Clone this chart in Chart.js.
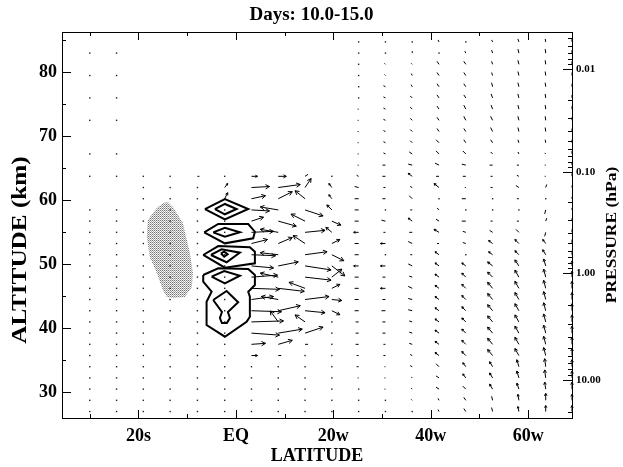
<!DOCTYPE html>
<html>
<head>
<meta charset="utf-8">
<script src="https://cdn.jsdelivr.net/npm/chart.js@4.4.0/dist/chart.umd.min.js"></script>
<style>body{margin:0;background:#fff}</style>
</head>
<body>
<canvas id="c" width="623" height="467"></canvas>
<script>
const serif = '"Liberation Serif", "Times New Roman", serif';

// axes
const latTicks = [-20, 0, 20, 40, 60];
const latLabels = ['20s', 'EQ', '20w', '40w', '60w'];
const latMinor = [-30, -10, 10, 30, 50];
const altTicks = [30, 40, 50, 60, 70, 80];
const altMinor = [35, 45, 55, 65, 75, 85];
const presLabels = ['0.01', '0.10', '1.00', '10.00'];
const presMajor = [0.01, 0.1, 1, 10];
const presAlt = [80.5, 64.4, 48.6, 31.9];
const presMinor = [0.005, 0.006, 0.007, 0.008, 0.009, 0.02, 0.03, 0.04, 0.05, 0.06, 0.07, 0.08, 0.09,
                   0.2, 0.3, 0.4, 0.5, 0.6, 0.7, 0.8, 0.9, 2, 3, 4, 5, 6, 7, 8, 9, 20];

// vector grid
const latCols = [-30.0, -24.5, -19.0, -13.5, -7.9, -2.3, 3.2, 8.7, 14.2, 19.7, 25.2, 30.7, 36.2, 41.7, 47.2, 52.7, 58.1, 63.6, 69.0];
const altRows = [84.7, 82.95, 81.2, 79.45, 77.7, 75.95, 74.2, 72.45, 70.7, 68.95, 67.2, 65.45, 63.7, 61.95, 60.2, 58.45, 56.7,
                 54.95, 53.2, 51.45, 49.7, 47.95, 46.2, 44.45, 42.7, 40.95, 39.2, 37.45, 35.7, 33.95, 32.2, 30.45, 28.7, 26.95];
const _ = null;
const uWind = [
  [_,_,_,_,_,_,_,_,_,_,0,0,0,-1,0,-1,-1,-0.5,0],
  [0,0,_,_,_,_,_,_,_,_,0,0,0,0,-1,-1,-1,-0.5,0],
  [_,_,_,_,_,_,_,_,_,_,0,-1,-1,-2,-2,-1,-1,-0.5,0],
  [0,0,_,_,_,_,_,_,_,_,0,-1,-1,-2,-2,-1,-1,-0.5,0],
  [_,_,_,_,_,_,_,_,_,_,0,-2,-1,-2,-2,-1,-1,-0.5,0],
  [0,0,_,_,_,_,_,_,_,_,0,-2,-2,-2,-2,-1.5,-1,-0.5,0],
  [_,_,_,_,_,_,_,_,_,_,-1,-2,-2,-2,-2,-1.5,-1,-0.5,0],
  [0,0,_,_,_,_,_,_,_,_,-1,-2,-2,-2,-2,-2,-1,-0.5,0],
  [_,_,_,_,_,_,_,_,_,_,-1,-2,-2,-2,-2,-2,-1,-0.5,0],
  [_,_,_,_,_,_,_,_,_,_,-1,-2,-2,-3,-2,-2,-1,-0.5,0],
  [0,0,_,_,_,_,_,_,_,_,-1,-2,-3,-3,-3,-2,-1,-1,0],
  [_,_,_,_,_,_,_,_,_,_,-1,-3,-4,-4,-4,-3,-2,-1,0],
  [0,0,0,0,2,0,6,8,3,0,-2,-3,-4,-3,-3,-2,-2,-1,0],
  [_,_,0,0,0,3,18,22,6,-3,-4,-2,-2,-5,-1,-2,-3,1,0],
  [_,_,0,0,0,3,14,14,-10,-3,-4,-3,-3,0,-4,0,-2,0,0],
  [0,0,0,0,0,0,18,-18,18,-5,-4,0,-2,-2,0,0,0,-1,0],
  [0,0,0,0,0,0,12,18,-14,9,-4,-4,-4,-3,-4,-2,-2,1,0],
  [0,0,0,0,0,0,22,-18,20,-6,-5,-2,-3,-5,-3,-3,-3,-1,0],
  [0,0,0,0,0,0,16,14,-12,8,-4,-5,-4,-2,-3,-4,-4,-3,0],
  [0,0,0,0,0,0,24,-18,22,12,-4,0,-2,-4,0,-4,-4,-3,0],
  [0,0,0,0,0,0,22,20,26,13,-5,-5,-4,-4,-4,-5,-4,-2,0],
  [0,0,0,0,0,0,26,-18,26,10,-4,-3,-3,-4,-4,-5,-4,-2,0],
  [0,0,0,0,0,0,28,26,-16,8,-4,-5,-4,-4,-4,-5,-4,-2,0],
  [0,0,0,0,0,0,22,-17,24,10,-4,-3,-4,-4,-4,-5,-4,-2,0],
  [0,0,0,0,0,0,30,22,20,8,-4,-4,-4,-4,-4,-5,-4,-2,0],
  [0,0,0,0,0,0,32,-8,-10,0,-3,-3,-3,-4,-4,-5,-4,-2,0],
  [0,0,0,0,0,0,28,24,18,0,-3,-3,-3,-4,-4,-5,-4,-2,0],
  [0,0,0,0,0,0,14,14,3,0,-3,-2,-3,-4,-4,-5,-4,-2,0],
  [0,0,0,0,0,0,6,3,0,0,-2,-2,-2,-4,-4,-5,-4,-2,0],
  [0,0,0,0,0,0,0,0,0,0,-2,-1,-2,-3,-3,-3,-2,-1,0],
  [0,0,0,0,0,0,0,0,0,0,-1,-1,-1,-3,-3,-3,-2,-1,0],
  [0,0,0,0,0,0,0,0,0,0,0,-1,-1,-3,-3,-3,-2,-1,0],
  [0,0,0,0,0,0,0,0,0,0,0,0,-1,-1,-2,-1,-1,0,0],
  [0,0,0,0,0,0,0,0,0,0,0,0,0,-1,-2,-1,-1,0,0]
];
const wWind = [
  [_,_,_,_,_,_,_,_,_,_,0,0,0,2,0,2,3,3,3],
  [0,0,_,_,_,_,_,_,_,_,0,0,2,0,2,3,4,4,3],
  [_,_,_,_,_,_,_,_,_,_,0,1,1,3,3,3,4,4,3],
  [0,0,_,_,_,_,_,_,_,_,0,1,2,3,3,3,4,4,3],
  [_,_,_,_,_,_,_,_,_,_,0,1,2,3,3,4,4,4,3],
  [0,0,_,_,_,_,_,_,_,_,0,1,2,3,3,4,4,4,3],
  [_,_,_,_,_,_,_,_,_,_,0,1,2,3,4,4,4,4,3],
  [0,0,_,_,_,_,_,_,_,_,0,1,2,3,4,4,4,4,3],
  [_,_,_,_,_,_,_,_,_,_,0,1,2,3,3,4,4,4,3],
  [_,_,_,_,_,_,_,_,_,_,0,1,2,3,3,3,3,3,3],
  [0,0,_,_,_,_,_,_,_,_,0,1,2,3,3,2,2,1,3],
  [_,_,_,_,_,_,_,_,_,_,0,0,1,2,1,0,0,0,3],
  [0,0,0,0,0,0,0,0,2,0,1,0,3,0,0,0,1,0,3],
  [_,_,0,0,0,4,1,3,9,4,1,0,1,4,0,0,2,3,2],
  [_,_,0,0,0,6,3,7,8,4,0,0,3,0,0,0,0,0,2],
  [0,0,0,0,0,0,-1,3,-6,5,0,0,0,2,0,0,0,-4,2],
  [0,0,0,0,0,0,4,-5,7,-4,0,1,3,2,0,0,0,3,3],
  [0,0,0,0,0,0,1,3,2,5,0,0,0,3,1,2,3,-4,3],
  [0,0,0,0,0,0,4,6,8,4,0,0,2,0,1,3,4,4,4],
  [0,0,0,0,0,0,-1,2,3,-6,0,0,0,3,0,3,4,5,4],
  [0,0,0,0,0,0,-2,4,-4,-10,0,0,2,3,3,4,6,7,5],
  [0,0,0,0,0,0,2,4,-3,8,0,0,1,3,4,5,7,8,6],
  [0,0,0,0,0,0,-1,-3,6,4,0,0,2,3,4,6,7,8,7],
  [0,0,0,0,0,0,3,3,3,-1,0,0,1,3,4,6,7,8,7],
  [0,0,0,0,0,0,-1,5,-2,-4,0,0,1,3,4,6,7,8,7],
  [0,0,0,0,0,0,1,11,7,0,0,0,1,3,4,6,7,8,7],
  [0,0,0,0,0,0,-2,4,6,0,0,0,1,3,4,6,7,8,7],
  [0,0,0,0,0,0,1,4,0,0,0,0,1,3,4,6,7,8,7],
  [0,0,0,0,0,0,0,0,0,0,0,0,1,3,4,6,7,8,7],
  [0,0,0,0,0,0,0,0,0,0,0,0,1,3,4,5,7,8,7],
  [0,0,0,0,0,0,0,0,0,0,0,0,1,2,4,5,7,8,7],
  [0,0,0,0,0,0,0,0,0,0,0,0,1,2,3,5,6,7,7],
  [0,0,0,0,0,0,0,0,0,0,0,0,1,2,3,4,6,7,6],
  [0,0,0,0,0,0,0,0,0,0,0,0,0,2,3,4,5,6,6]
];
const uScale = 0.2053;   // deg per vector unit
const wScale = 0.15625;  // km per vector unit

// contour lines [lat, alt]
const contours = [
  [[-6.36,58.59],[-2.26,60.16],[2.53,58.59],[-2.26,56.98]],
  [[-4.31,58.59],[-2.26,59.38],[0.14,58.59],[-2.26,57.77]],
  [[-6.51,54.95],[-3.63,56.25],[2.53,56.25],[3.90,55.05],[3.55,54.02],[-2.26,53.23]],
  [[-4.66,54.95],[-2.26,55.67],[0.82,54.95],[-2.26,54.27]],
  [[-6.71,51.41],[-3.63,52.81],[2.87,52.61],[3.90,51.92],[3.90,50.11],[-2.26,49.42]],
  [[-5.13,51.41],[-2.94,52.30],[0.82,51.77],[-1.91,50.27]],
  [[-3.08,51.67],[-2.40,51.92],[-1.70,51.52],[-2.40,51.14]],
  [[-6.71,48.28],[-3.63,49.33],[2.53,49.22],[3.90,48.28],[3.90,46.72],[2.53,45.67],[2.87,44.89],[2.87,41.77],
   [2.20,40.98],[-2.26,38.64],[-6.02,40.47],[-6.02,44.11],[-4.99,45.67],[-6.71,47.23]],
  [[-4.99,48.02],[-2.40,48.91],[0.82,48.17],[-2.26,46.98]],
  [[-4.66,44.38],[-1.91,45.78],[0.47,44.02],[-1.64,42.5],[-1.23,41.56],[-1.85,40.78],[-2.87,40.78],[-3.28,41.56],[-2.87,42.5]]
];

// stippled region [lat, alt]
const shade = [[-13.97,59.69],[-12.94,58.91],[-10.89,56.41],[-9.45,51.72],[-8.83,48.59],[-9.04,46.41],[-10.48,44.84],
  [-12.94,44.69],[-14.18,44.84],[-15.0,45.94],[-16.23,48.59],[-17.67,51.09],[-18.29,54.22],[-18.08,56.88],[-16.23,58.75],[-15.0,59.53]];

function presToAlt(p) {
  const lp = Math.log10(p);
  let i = 0;
  while (i < presMajor.length - 2 && lp > Math.log10(presMajor[i + 1])) i++;
  const l0 = Math.log10(presMajor[i]), l1 = Math.log10(presMajor[i + 1]);
  return presAlt[i] + (lp - l0) / (l1 - l0) * (presAlt[i + 1] - presAlt[i]);
}

const pat = document.createElement('canvas');
pat.width = 2; pat.height = 2;
const pc = pat.getContext('2d');
pc.fillStyle = '#fff'; pc.fillRect(0, 0, 2, 2);
pc.fillStyle = '#777'; pc.fillRect(0, 0, 1, 1);
pc.fillStyle = '#aaa'; pc.fillRect(1, 1, 1, 1);
pc.fillStyle = '#e4e4e4'; pc.fillRect(1, 0, 1, 1);

const shadePlugin = {
  id: 'shade',
  beforeDatasetsDraw(chart) {
    const {ctx, scales: {x, y}} = chart;
    ctx.save();
    ctx.fillStyle = ctx.createPattern(pat, 'repeat');
    ctx.beginPath();
    shade.forEach((p, i) => {
      const px = x.getPixelForValue(p[0]), py = y.getPixelForValue(p[1]);
      i ? ctx.lineTo(px, py) : ctx.moveTo(px, py);
    });
    ctx.closePath();
    ctx.fill();
    ctx.restore();
  }
};

const vectorPlugin = {
  id: 'vectors',
  afterDatasetsDraw(chart) {
    const {ctx, chartArea: a, scales: {x, y}} = chart;
    ctx.save();
    ctx.beginPath();
    ctx.rect(a.left, a.top, a.right - a.left + 2, a.bottom - a.top);
    ctx.clip();
    ctx.strokeStyle = '#000';
    ctx.fillStyle = '#222';
    ctx.lineWidth = 1;
    altRows.forEach((alt, r) => latCols.forEach((lat, c) => {
      const u = uWind[r][c], w = wWind[r][c];
      if (u === null) return;
      const x0 = x.getPixelForValue(lat), y0 = y.getPixelForValue(alt);
      const x1 = x.getPixelForValue(lat + u * uScale), y1 = y.getPixelForValue(alt + w * wScale);
      const len = Math.hypot(x1 - x0, y1 - y0);
      if (len < 1) { ctx.fillRect(x0 - 0.7, y0 - 0.7, 1.4, 1.4); return; }
      ctx.beginPath();
      ctx.moveTo(x0, y0);
      ctx.lineTo(x1, y1);
      if (len >= 5) {
        const ang = Math.atan2(y1 - y0, x1 - x0), h = Math.min(4.5, len * 0.4);
        ctx.moveTo(x1 - h * Math.cos(ang - 0.5), y1 - h * Math.sin(ang - 0.5));
        ctx.lineTo(x1, y1);
        ctx.lineTo(x1 - h * Math.cos(ang + 0.5), y1 - h * Math.sin(ang + 0.5));
      }
      ctx.stroke();
    }));
    ctx.restore();
  }
};

function stretchedText(ctx, text, cx, cy, size, sx) {
  ctx.save();
  ctx.fillStyle = '#000';
  ctx.font = 'bold ' + size + 'px ' + serif;
  ctx.textAlign = 'center';
  ctx.textBaseline = 'middle';
  ctx.translate(cx, cy);
  ctx.rotate(-Math.PI / 2);
  ctx.scale(sx, 1);
  ctx.fillText(text, 0, 0);
  ctx.restore();
}

const framePlugin = {
  id: 'frame',
  afterDraw(chart) {
    const {ctx, chartArea: a, scales: {x, y}} = chart;
    ctx.save();
    ctx.strokeStyle = '#000';
    ctx.lineWidth = 1;
    ctx.strokeRect(a.left + 0.5, a.top + 0.5, a.right - a.left, a.bottom - a.top);
    ctx.beginPath();
    const vt = (v, len) => {
      const px = Math.round(x.getPixelForValue(v)) + 0.5;
      ctx.moveTo(px, a.bottom); ctx.lineTo(px, a.bottom - len);
      ctx.moveTo(px, a.top); ctx.lineTo(px, a.top + len);
    };
    latTicks.forEach(v => vt(v, 8));
    latMinor.forEach(v => vt(v, 4));
    const ht = (v, len) => {
      const py = Math.round(y.getPixelForValue(v)) + 0.5;
      ctx.moveTo(a.left, py); ctx.lineTo(a.left + len, py);
    };
    altTicks.forEach(v => ht(v, 9));
    altMinor.forEach(v => ht(v, 4));
    const rt = (v, len) => {
      const py = Math.round(y.getPixelForValue(v)) + 0.5;
      if (py < a.top || py > a.bottom) return;
      ctx.moveTo(a.right, py); ctx.lineTo(a.right - len, py);
    };
    presAlt.forEach(v => rt(v, 9));
    presMinor.forEach(p => rt(presToAlt(p), 4));
    ctx.stroke();
    ctx.restore();
    stretchedText(ctx, 'ALTITUDE (km)', 21, 250, 21, 1.2);
    stretchedText(ctx, 'PRESSURE (hPa)', 612, 235, 14, 1.25);
  }
};

Chart.defaults.color = '#000';

new Chart(document.getElementById('c'), {
  type: 'scatter',
  data: {
    datasets: contours.map(c => ({
      data: c.concat([c[0]]).map(p => ({x: p[0], y: p[1]})),
      showLine: true,
      borderColor: '#000',
      borderWidth: 2,
      pointRadius: 0,
      fill: false
    }))
  },
  options: {
    responsive: false,
    animation: false,
    events: [],
    layout: {padding: 0},
    plugins: {
      legend: {display: false},
      tooltip: {enabled: false},
      title: {
        display: true,
        text: 'Days: 10.0-15.0',
        color: '#000',
        font: {family: serif, size: 19, weight: 'bold'},
        padding: {top: 4, bottom: 5.2}
      }
    },
    scales: {
      x: {
        type: 'linear', position: 'bottom', min: -35.7, max: 69.0,
        grid: {display: false, drawTicks: false},
        border: {display: false},
        afterBuildTicks: s => { s.ticks = latTicks.map(v => ({value: v})); },
        afterFit: s => { s.height = 49; },
        ticks: {
          autoSkip: false, maxRotation: 0, padding: 8,
          font: {family: serif, size: 18, weight: 'bold'},
          callback: (v, i) => latLabels[i]
        },
        title: {display: true, text: 'LATITUDE', font: {family: serif, size: 18, weight: 'bold'}, padding: {top: 0, bottom: 0}}
      },
      y: {
        type: 'linear', position: 'left', min: 25.94, max: 86.25,
        grid: {display: false, drawTicks: false},
        border: {display: false},
        afterBuildTicks: s => { s.ticks = altTicks.map(v => ({value: v})); },
        afterFit: s => { s.width = 62; },
        ticks: {autoSkip: false, padding: 5, font: {family: serif, size: 18, weight: 'bold'}}
      },
      p: {
        type: 'linear', position: 'right', min: 25.94, max: 86.25,
        grid: {display: false, drawTicks: false},
        border: {display: false},
        afterBuildTicks: s => { s.ticks = presAlt.map(v => ({value: v})); },
        afterFit: s => { s.width = 51; },
        ticks: {
          autoSkip: false, padding: 4,
          font: {family: serif, size: 11, weight: 'bold'},
          callback: (v, i) => presLabels[i]
        }
      }
    }
  },
  plugins: [shadePlugin, vectorPlugin, framePlugin]
});
</script>
</body>
</html>
